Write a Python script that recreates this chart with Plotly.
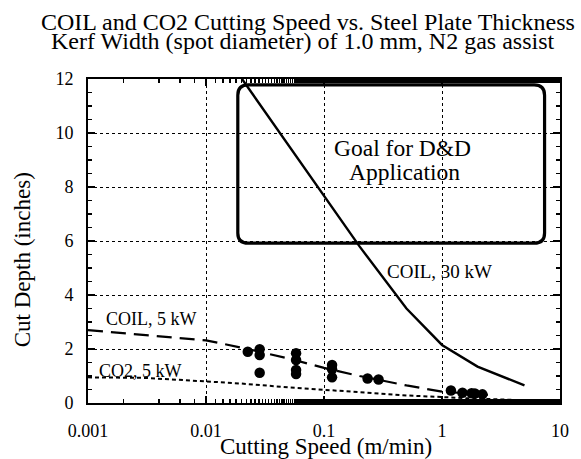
import plotly.graph_objects as go
import numpy as np

# COIL 30 kW (solid)
coil30_x = [0.0202, 0.05, 0.1, 0.2, 0.5, 1, 2, 5]
coil30_y = [12.0, 9.55, 7.7, 5.8, 3.5, 2.15, 1.35, 0.65]
# COIL 5 kW (dashed)
coil5_x = [0.001, 0.01, 0.02, 0.05, 0.1, 0.2, 0.5, 1, 2.5]
coil5_y = [2.7, 2.32, 2.05, 1.65, 1.3, 1.0, 0.65, 0.42, 0.3]
# CO2 5 kW (dotted)
co2_x = [0.001, 0.003, 0.01, 0.02, 0.05, 0.1, 0.2, 0.5, 1, 2, 5]
co2_y = [0.95, 0.93, 0.8, 0.72, 0.58, 0.5, 0.4, 0.28, 0.21, 0.16, 0.1]
# measured data points
pts_x = [0.0226, 0.0285, 0.0285, 0.0285, 0.058, 0.058, 0.058, 0.058,
         0.117, 0.117, 0.117, 0.234, 0.29, 1.19, 1.49, 1.78, 1.9, 2.2]
pts_y = [1.9, 1.99, 1.78, 1.12, 1.84, 1.59, 1.22, 1.07,
         1.41, 1.25, 0.95, 0.91, 0.87, 0.46, 0.38, 0.36, 0.35, 0.32]

# goal region (data units)
goal_x = [0.0186, 7.4]
goal_y = [5.92, 11.78]

x_ticks = [0.001, 0.01, 0.1, 1, 10]
x_tick_text = ["0.001", "0.01", "0.1", "1", "10"]
y_ticks = [0, 2, 4, 6, 8, 10, 12]

title_lines = ["COIL and CO2 Cutting Speed vs. Steel Plate Thickness",
               "Kerf Width (spot diameter) of 1.0 mm, N2 gas assist"]
goal_lines = ["Goal for D&D", "Application"]

FONT = "Liberation Serif, Times New Roman, serif"
BLACK = "black"

fig = go.Figure()
fig.add_trace(go.Scatter(x=coil30_x, y=coil30_y, mode="lines",
                         line=dict(color=BLACK, width=2.4)))
fig.add_trace(go.Scatter(x=coil5_x, y=coil5_y, mode="lines",
                         line=dict(color=BLACK, width=2.2, dash="15px,8px")))
fig.add_trace(go.Scatter(x=co2_x, y=co2_y, mode="lines",
                         line=dict(color=BLACK, width=2, dash="4px,3px")))
fig.add_trace(go.Scatter(x=pts_x, y=pts_y, mode="markers",
                         marker=dict(color=BLACK, size=10.5)))
# empty trace to host the mirrored top/right axes
fig.add_trace(go.Scatter(x=[], y=[], xaxis="x2", yaxis="y2", hoverinfo="skip"))

# rounded goal box, x in paper units derived from log axis
def xp(v):
    return (np.log10(v) + 3) / 4

x0, x1 = xp(goal_x[0]), xp(goal_x[1])
y0, y1 = goal_y
rx, ry = 0.022, 0.38
path = (f"M {x0+rx},{y0} L {x1-rx},{y0} Q {x1},{y0} {x1},{y0+ry} "
        f"L {x1},{y1-ry} Q {x1},{y1} {x1-rx},{y1} L {x0+rx},{y1} "
        f"Q {x0},{y1} {x0},{y1-ry} L {x0},{y0+ry} Q {x0},{y0} {x0+rx},{y0} Z")
fig.add_shape(type="path", path=path, xref="paper", yref="y",
              line=dict(color=BLACK, width=3.2))

def label(text, x, y, size, angle=0):
    fig.add_annotation(x=x, y=y, xref="paper", yref="paper", text=text,
                       showarrow=False, textangle=angle,
                       xanchor="center", yanchor="middle",
                       font=dict(family=FONT, size=size, color=BLACK))

label(title_lines[0], 0.4656, 1.1744, 24)
label(title_lines[1], 0.456, 1.117, 24)
label(goal_lines[0], 0.667, 0.787, 23.5)
label(goal_lines[1], 0.671, 0.713, 23.5)
label("COIL, 30 kW", 0.744, 0.406, 19)
label("COIL, 5 kW", 0.133, 0.259, 18)
label("CO2, 5 kW", 0.112, 0.100, 18)
label("Cutting Speed (m/min)", 0.504, -0.1358, 23)
label("Cut Depth (inches)", -0.1396, 0.441, 23, angle=-90)

fig.update_layout(
    width=581, height=459,
    margin=dict(l=88, r=13, t=79, b=56),
    paper_bgcolor="white", plot_bgcolor="white",
    showlegend=False,
    font=dict(family=FONT, color=BLACK),
)
common_x = dict(type="log", range=[-3, 1], tickvals=x_ticks,
                ticks="inside", ticklen=7, tickwidth=1.5, tickcolor=BLACK,
                minor=dict(ticks="inside", ticklen=4, tickcolor=BLACK, showgrid=False),
                zeroline=False)
common_y = dict(range=[0, 12], tickvals=y_ticks,
                ticks="inside", ticklen=7, tickwidth=1.5, tickcolor=BLACK,
                minor=dict(ticks="inside", ticklen=4, tickcolor=BLACK,
                           dtick=0.5, showgrid=False),
                zeroline=False)
fig.update_layout(
    xaxis=dict(**common_x, ticktext=x_tick_text,
               showline=True, linecolor=BLACK, linewidth=2, mirror=True,
               showgrid=True, gridcolor=BLACK, griddash="dot", gridwidth=1,
               ticklabelstandoff=10,
               tickfont=dict(family=FONT, size=18, color=BLACK)),
    yaxis=dict(**common_y,
               showline=True, linecolor=BLACK, linewidth=2, mirror=True,
               showgrid=True, gridcolor=BLACK, griddash="dot", gridwidth=1,
               ticklabelstandoff=9,
               tickfont=dict(family=FONT, size=18, color=BLACK)),
    xaxis2=dict(**common_x, overlaying="x", side="top", anchor="y2",
                showticklabels=False, showgrid=False, showline=False),
    yaxis2=dict(**common_y, overlaying="y", side="right", anchor="x2",
                showticklabels=False, showgrid=False, showline=False),
)

fig.write_html("out.html",
               config={"displayModeBar": False, "staticPlot": True},
               post_script="document.body.style.margin='0';"
                           "document.body.style.overflow='hidden';")
